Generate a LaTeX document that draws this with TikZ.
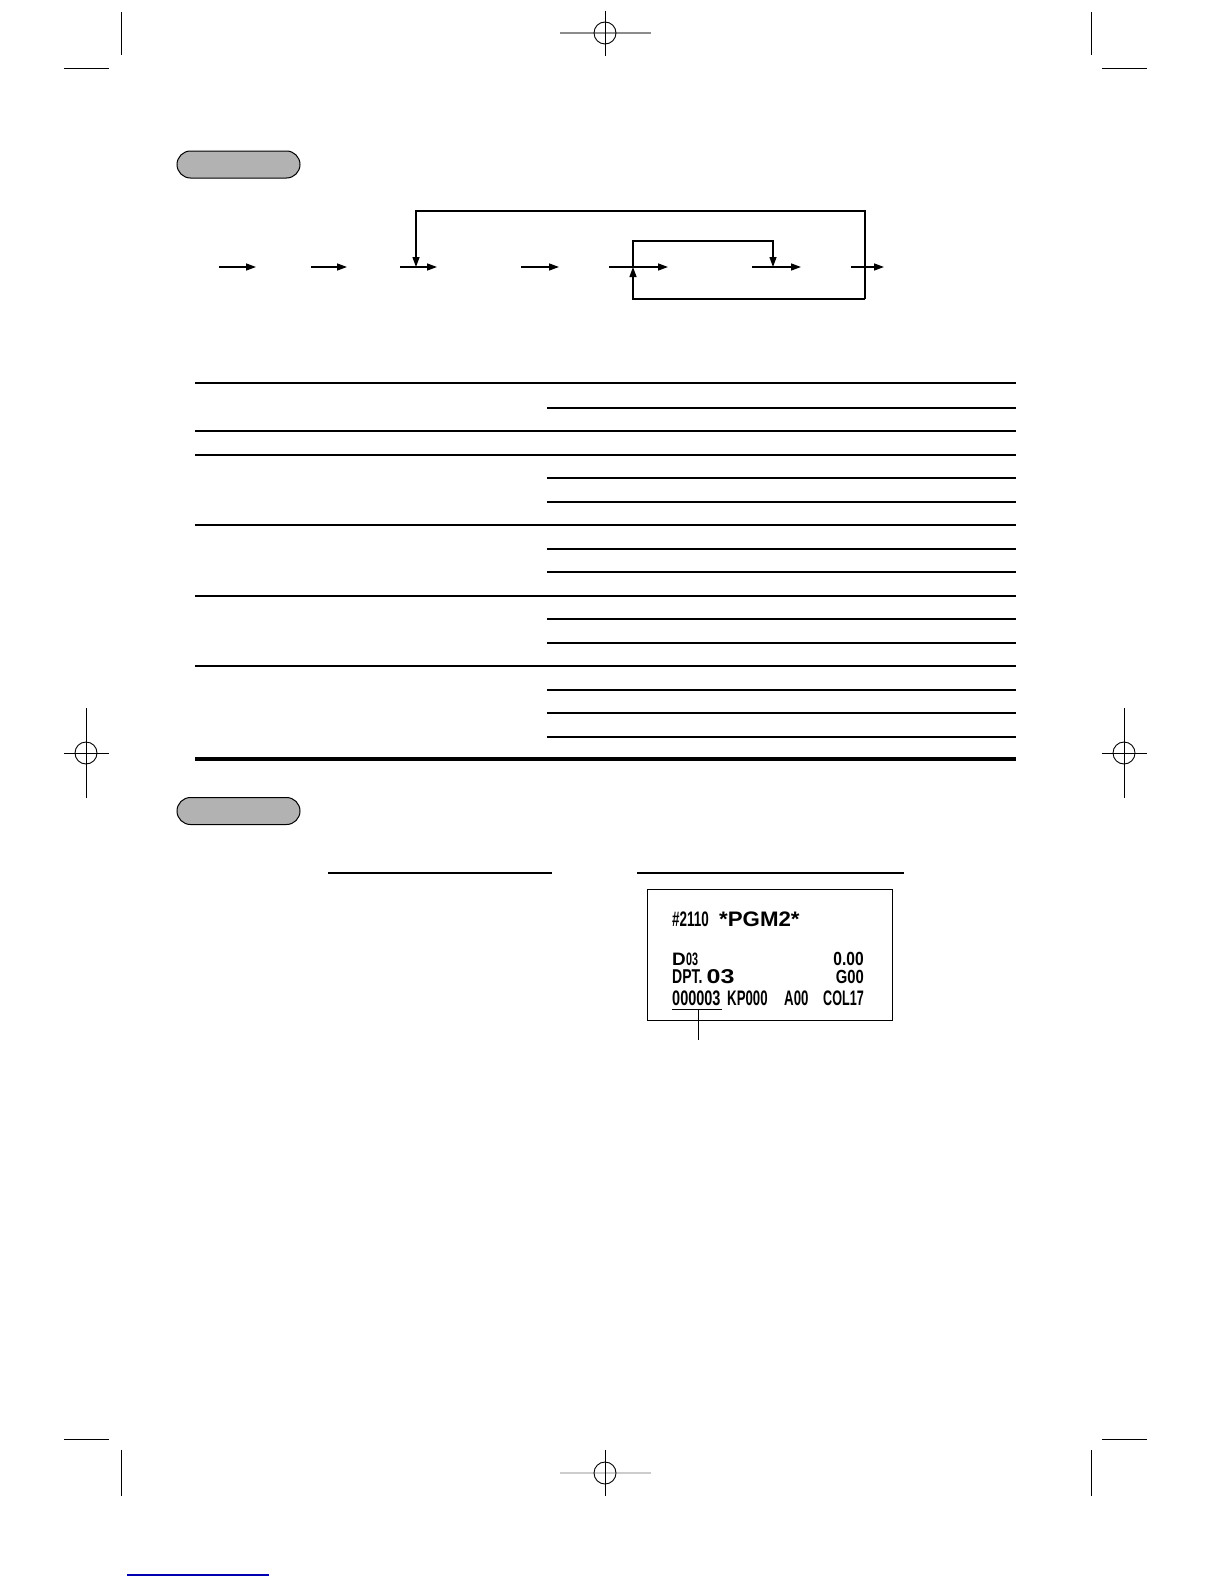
\documentclass[tikz,border=0pt]{standalone}
\usepackage{fontspec}
\setmainfont{Liberation Sans}
\usetikzlibrary{arrows.meta}
\tikzset{
  crop/.style={line width=0.9pt,black},
  cropgray/.style={line width=1.6pt,black!45},
  flow/.style={line width=1.3pt},
  arr/.style={flow,-{Triangle[length=10pt,width=7pt]}},
  rowrule/.style={line width=1.5pt},
  endrule/.style={line width=3.2pt},
  pill/.style={draw,line width=1pt,fill=black!30,rounded corners=13.5pt,
    minimum width=123pt,minimum height=27pt,inner sep=0pt},
  rtxt/.style={inner sep=0pt,anchor=base west},
  rtxte/.style={inner sep=0pt,anchor=base east},
}
\newcommand{\rt}[3]{\scalebox{#2}[1]{\fontsize{#1}{#1}\selectfont\bfseries #3}}
\newcommand{\rtb}[3]{\scalebox{#2}[1]{\fontsize{#1}{#1}\selectfont\bfseries #3}}
\begin{document}
\begin{tikzpicture}[x=1pt,y=-1pt]
\useasboundingbox (0,0) rectangle (1224,1584);
\fill[white] (0,0) rectangle (1224,1584);

% ---------- crop / registration marks ----------
\draw[crop] (121,12) -- (121,55);
\draw[crop] (64,68) -- (109,68);
\draw[crop] (1091,12) -- (1091,55);
\draw[crop] (1102,68) -- (1147,68);
\draw[cropgray] (560,33) -- (651,33);
\draw[crop] (605,11) -- (605,56);
\draw[crop] (605,33) circle[radius=11pt];

\draw[crop] (121,1450) -- (121,1496);
\draw[crop] (64,1439) -- (109,1439);
\draw[crop] (1091,1450) -- (1091,1496);
\draw[crop] (1102,1439) -- (1147,1439);
\draw[line width=1.6pt,black!20] (560,1473) -- (651,1473);
\draw[crop] (605,1450) -- (605,1496);
\draw[crop] (605,1473) circle[radius=11pt];

\draw[crop] (86,708) -- (86,798);
\draw[crop] (64,753) -- (109,753);
\draw[crop] (86,753) circle[radius=11pt];
\draw[crop] (1124,708) -- (1124,798);
\draw[crop] (1102,753) -- (1147,753);
\draw[crop] (1124,753) circle[radius=11pt];

\draw[line width=1.2pt,blue!70!black] (127,1575) -- (269,1575);

% ---------- section pills ----------
\node[pill] (pillA) at (238.5,164.5) {};
\node[pill] (pillB) at (238.5,811) {};

% ---------- key sequence flow ----------
\coordinate (a1s) at (219,267); \coordinate (a1e) at (256,267);
\coordinate (a2s) at (311,267); \coordinate (a2e) at (347,267);
\coordinate (a3s) at (400,267); \coordinate (a3e) at (437,267);
\coordinate (a4s) at (521,267); \coordinate (a4e) at (559,267);
\coordinate (a5s) at (609,267); \coordinate (a5e) at (668,267);
\coordinate (a6s) at (752,267); \coordinate (a6e) at (801,267);
\coordinate (a7s) at (851,267); \coordinate (a7e) at (884,267);
\coordinate (j3) at (416,267);
\coordinate (j5) at (633,267);
\coordinate (j6) at (773,267);
\coordinate (otr) at (865,211);
\coordinate (obr) at (865,299);
\coordinate (itl) at (633,241);

\draw[arr] (a1s) -- (a1e);
\draw[arr] (a2s) -- (a2e);
\draw[arr] (a3s) -- (a3e);
\draw[arr] (a4s) -- (a4e);
\draw[arr] (a5s) -- (a5e);
\draw[arr] (a6s) -- (a6e);
\draw[arr] (a7s) -- (a7e);
% outer loop
\draw[arr] (obr) -- (otr) -| (j3);
\draw[arr] (obr) -| (j5);
% inner loop
\draw[arr] (j5) -- (itl) -| (j6);

% ---------- table rules ----------
\foreach \yy in {383,431,455,525,596,666}
  \draw[rowrule] (195,\yy) -- (1016,\yy);
\foreach \yy in {408,478,502,549,572,619,643,690,713,737}
  \draw[rowrule] (547,\yy) -- (1016,\yy);
\draw[endrule] (195,759) -- (1016,759);

% ---------- example headings ----------
\draw[line width=1.2pt] (328,873) -- (552,873);
\draw[line width=1.2pt] (637,873) -- (904,873);

% ---------- receipt ----------
\node[draw,line width=1pt,minimum width=245pt,minimum height=131pt,inner sep=0pt] (rcpt) at (769.5,954.5) {};
\node[rtxt] (r1a) at (672,926.5) {\rt{21}{0.64}{\#2110}};
\node[rtxt] (r1b) at (719,926.5) {\rtb{21}{1.06}{*PGM2*}};
\node[rtxt] (r2a) at (672,965.3) {\rtb{18}{1.05}{D}};
\node[rtxt] (r2b) at (686,965.3) {\rt{18}{0.6}{03}};
\node[rtxte] (r2c) at (864,965.3) {\rt{19}{0.82}{0.00}};
\node[rtxt] (r3a) at (672,983) {\rt{20}{0.7}{DPT.}};
\node[rtxt] (r3b) at (706.5,983) {\rtb{20}{1.25}{03}};
\node[rtxte] (r3c) at (864,983) {\rt{19}{0.78}{G00}};
\node[rtxt] (r4a) at (672,1005) {\rt{21}{0.69}{000003}};
\node[rtxt] (r4b) at (727,1005) {\rt{21}{0.63}{KP000}};
\node[rtxt] (r4c) at (784,1005) {\rt{21}{0.63}{A00}};
\node[rtxte] (r4d) at (864,1005) {\rt{21}{0.6}{COL17}};
\coordinate (ul1) at (672,1009.5);
\coordinate (ul2) at (722,1009.5);
\coordinate (ulm) at (698,1009.5);
\coordinate (ulend) at (698,1040);
\draw[line width=1pt] (ul1) -- (ul2);
\draw[line width=1pt] (ulm) -- (ulend);
\end{tikzpicture}
\end{document}
